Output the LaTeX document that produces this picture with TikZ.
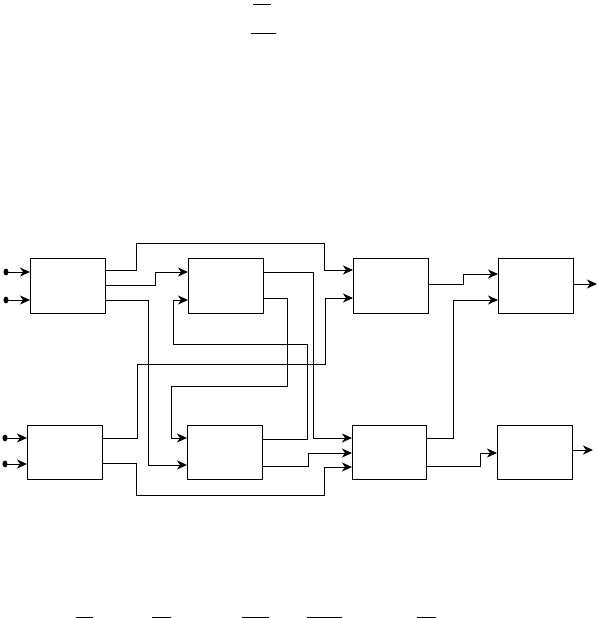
\documentclass[tikz,border=0pt]{standalone}
\usetikzlibrary{arrows.meta}
\begin{document}
\begin{tikzpicture}[x=1pt,y=-1pt,
  blk/.style={draw,line width=1pt,minimum width=75pt,minimum height=55pt,anchor=north west,inner sep=0pt,outer sep=0pt},
  wire/.style={line width=1pt},
  arr/.style={line width=1pt,-{Stealth[length=10pt,width=9pt,inset=3pt]}},
  dotin/.style={fill=black,draw=none}]
\useasboundingbox (0,0) rectangle (599,618);
% blocks
\node[blk] (A) at (30,258) {};
\node[blk] (B) at (188,258) {};
\node[blk] (C) at (353,258) {};
\node[blk] (D) at (498,258) {};
\node[blk,minimum height=54pt] (E) at (27,425) {};
\node[blk,minimum height=54pt] (F) at (187,425) {};
\node[blk,minimum height=54pt,minimum width=74pt] (G) at (352,425) {};
\node[blk,minimum height=54pt] (H) at (497,425) {};
% inputs
\coordinate (i1) at (6,272);
\coordinate (i2) at (6,300);
\coordinate (i3) at (5,438);
\coordinate (i4) at (5,464);
\foreach \p in {i1,i2,i3,i4}{\fill (\p) ellipse [x radius=2.5pt,y radius=3.4pt];}
\draw[arr] (i1) -- (A.west |- i1);
\draw[arr] (i2) -- (A.west |- i2);
\draw[arr] (i3) -- (E.west |- i3);
\draw[arr] (i4) -- (E.west |- i4);
% A outputs
\draw[arr] (A.east |- 0,270) -- (136,270) -- (136,243) -- (324,243) -- (324,270) -- (C.west |- 0,270);
\draw[arr] (A.east |- 0,285) -- (155,285) -- (155,272) -- (B.west |- 0,272);
\draw[arr] (A.east |- 0,300) -- (148,300) -- (148,465) -- (F.west |- 0,465);
% F out1 -> B in2
\draw[arr] (F.east |- 0,439) -- (307,439) -- (307,344) -- (173,344) -- (173,300) -- (B.west |- 0,300);
% B out1 -> G in1
\draw[arr] (B.east |- 0,272) -- (313,272) -- (313,438) -- (G.west |- 0,438);
% B out2 -> F in1
\draw[arr] (B.east |- 0,298) -- (287,298) -- (287,386) -- (171,386) -- (171,438) -- (F.west |- 0,438);
% E out1 -> C in2
\draw[arr] (E.east |- 0,438) -- (137,438) -- (137,364) -- (325,364) -- (325,298) -- (C.west |- 0,298);
% E out2 -> G in3
\draw[arr] (E.east |- 0,463) -- (136,463) -- (136,495) -- (324,495) -- (324,467) -- (G.west |- 0,467);
% F out2 -> G in2
\draw[arr] (F.east |- 0,466) -- (308,466) -- (308,453) -- (G.west |- 0,453);
% C out -> D in1
\draw[arr] (C.east |- 0,284) -- (463,284) -- (463,274) -- (D.west |- 0,274);
% G out1 -> D in2
\draw[arr] (G.east |- 0,438) -- (453,438) -- (453,300) -- (D.west |- 0,300);
% G out2 -> H in
\draw[arr] (G.east |- 0,466) -- (480,466) -- (480,453) -- (H.west |- 0,453);
% outputs
\coordinate (oD) at (597,284);
\coordinate (oH) at (593,450);
\draw[arr] (D.east |- oD) -- (oD);
\draw[arr] (H.east |- oH) -- (oH);
% stray overlines
\draw[wire] (253,5) -- (271,5);
\draw[wire] (251,34) -- (276,34);
\draw[wire] (76,617) -- (93,617);
\draw[wire] (152,617) -- (171,617);
\draw[wire] (242,617) -- (269,617);
\draw[wire] (307,617) -- (342,617);
\draw[wire] (417,617) -- (436,617);
\end{tikzpicture}
\end{document}
